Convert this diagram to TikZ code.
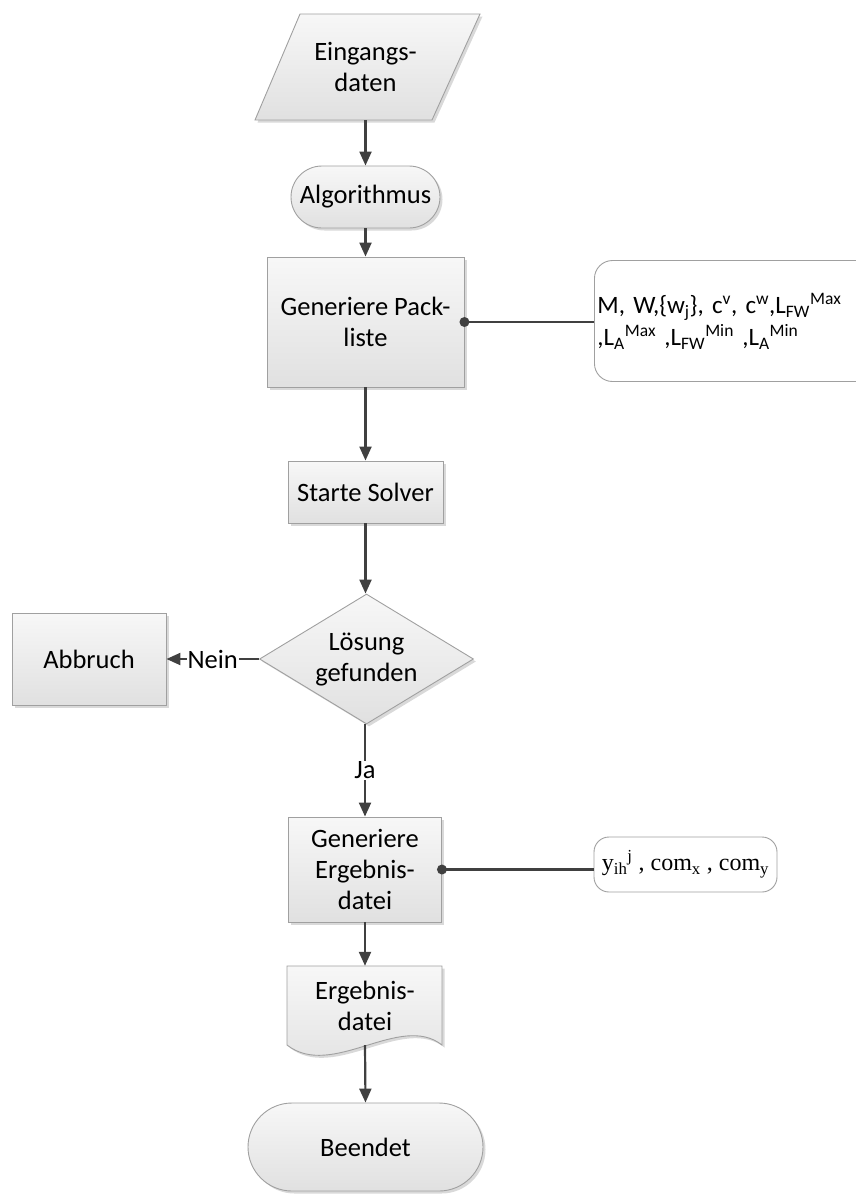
\documentclass[tikz,border=0pt]{standalone}
\usepackage{fontspec}
\setmainfont{Carlito}
\newfontfamily\serifface{Liberation Serif}
\usetikzlibrary{shadows,arrows.meta,shapes.misc,shapes.geometric,calc}
\definecolor{linec}{HTML}{404040}
\definecolor{edgec}{HTML}{A0A0A0}
\begin{document}
\begin{tikzpicture}[x=1pt,y=-1pt,
  font=\fontsize{26.5}{31}\selectfont,
  shapefill/.style={draw=edgec, line width=0.9pt, top color=white!97!black, bottom color=white!88!black,
    drop shadow={shadow xshift=2.5pt, shadow yshift=-2.5pt, opacity=0.3}},
  procbox/.style={shapefill, rectangle, align=center, inner sep=0pt},
  termbox/.style={shapefill, rounded rectangle, align=center, inner sep=0pt},
  databox/.style={draw=edgec, line width=0.9pt, fill=white, rounded corners=18pt},
  conn/.style={draw=linec, line width=2.2pt},
  arr/.style={conn, -{Triangle[length=14pt,width=12pt]}},
  lbl/.style={fill=white, inner sep=1pt},
  dotc/.style={fill=linec}
]
\useasboundingbox (0,0) rectangle (856,1195);

% input data (parallelogram)
\path[shapefill] (255,120) -- (300,14) -- (480,14) -- (432,120) -- cycle;
\node[align=center, minimum height=106pt, minimum width=130pt, inner sep=0pt] (in) at (365.5,67) {Eingangs-\\daten};

% algorithm start
\node[termbox, minimum width=149pt, minimum height=62pt] (alg) at (365.5,197) {Algorithmus};

% packing list
\node[procbox, minimum width=197pt, minimum height=130pt] (pack) at (365.5,322) {Generiere Pack-\\liste};

% input parameters
\node[databox, anchor=west, minimum width=285pt, minimum height=121pt, text width=279pt, inner xsep=3pt, align=left,
  font=\fontsize{25}{32}\selectfont] (par) at (594,321)
  {M, W,\{w\textsubscript{j}\}, c\textsuperscript{v}, c\textsuperscript{w},L\textsubscript{FW}\textsuperscript{Max}\\
   ,L\textsubscript{A}\textsuperscript{Max} ,L\textsubscript{FW}\textsuperscript{Min} ,L\textsubscript{A}\textsuperscript{Min}};

% solver
\node[procbox, minimum width=155pt, minimum height=62pt] (solver) at (365.5,492) {Starte Solver};

% decision
\node[shapefill, diamond, minimum width=214pt, minimum height=130pt, inner sep=0pt] (dec) at (366.5,659) {};
\node[align=center] (dectxt) at (dec.center) {Lösung\\gefunden};

% abort
\node[procbox, minimum width=154pt, minimum height=92pt] (abort) at (89,659) {Abbruch};

% result file generation
\node[procbox, minimum width=153pt, minimum height=105pt] (res) at (365,869.5) {Generiere\\Ergebnis-\\datei};

% output parameters
\node[databox, minimum width=183pt, minimum height=55pt, inner xsep=3pt, rounded corners=15pt,
  font=\serifface\fontsize{24}{28}\selectfont] (out) at (685.5,864.5)
  {y\textsubscript{ih}\textsuperscript{j} , com\textsubscript{x} , com\textsubscript{y}};

% result document
\path[shapefill] (287,966) -- (442,966) -- (442,1045)
  .. controls (400,1012) and (332,1080) .. (287,1045) -- cycle;
\node[align=center, minimum width=155pt, minimum height=79pt, inner sep=0pt] (doc) at (365,1005.5) {Ergebnis-\\datei};
\coordinate (docb) at (365,1045);

% end
\node[termbox, minimum width=235pt, minimum height=88pt] (fin) at (365.5,1147) {Beendet};

% connectors
\draw[arr] (in.south) -- (alg.north);
\draw[arr] (alg.south) -- (pack.north);
\draw[arr] (pack.south) -- (solver.north);
\draw[arr] (solver.south) -- (solver.south |- dec.north);
\draw[arr] (dec.west) -- node[lbl] {Nein} (abort.east);
\draw[arr] (dec.south -| res.north) -- node[lbl, pos=0.5] {Ja} (res.north);
\draw[arr] (res.south) -- (doc.north);
\draw[arr] (docb) -- (fin.north);

\draw[conn] (pack.east) -- (pack.east -| par.west);
\fill[dotc] (pack.east) circle (5pt);
\draw[conn] (res.east) -- (res.east -| out.west);
\fill[dotc] (res.east) circle (5pt);
\end{tikzpicture}
\end{document}
